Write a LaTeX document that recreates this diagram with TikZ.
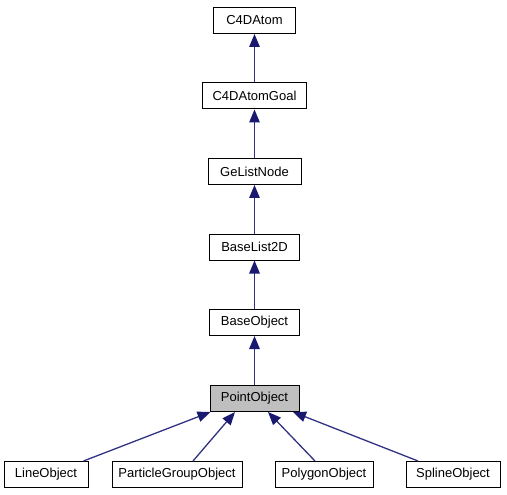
\documentclass[tikz,border=0pt]{standalone}
\usepackage{fontspec}
\setmainfont{Liberation Sans}
\usetikzlibrary{arrows.meta}
\definecolor{edgecol}{RGB}{25,25,112}
\definecolor{linecol}{RGB}{50,50,130}
\definecolor{hlgray}{RGB}{191,191,191}
\tikzset{
  cls/.style={draw=black, line width=1pt, fill=white, minimum height=26pt, inner sep=0pt,
    font=\fontsize{13}{15}\selectfont},
  cur/.style={cls, fill=hlgray},
  inh/.style={draw=linecol, line width=1.3pt, -{Triangle[length=13pt,width=10.5pt,color=edgecol,fill=edgecol]}}
}
\begin{document}
\begin{tikzpicture}[x=1pt,y=-1pt]
\useasboundingbox (0,0) rectangle (507,495);
\node[cls, minimum width=82pt] (a) at (254.5,20.5) {C4DAtom};
\node[cls, minimum width=104pt] (b) at (254.5,96) {C4DAtomGoal};
\node[cls, minimum width=93pt] (c) at (254.5,171.5) {GeListNode};
\node[cls, minimum width=90pt] (d) at (254.5,247) {BaseList2D};
\node[cls, minimum width=90pt] (e) at (254.5,322.5) {BaseObject};
\node[cur, minimum width=89pt] (p) at (254.5,398.5) {PointObject};
\node[cls, minimum width=84pt] (lo) at (46,474.5) {LineObject};
\node[cls, minimum width=130pt] (pg) at (177,474.5) {ParticleGroupObject};
\node[cls, minimum width=98pt] (pl) at (324,474.5) {PolygonObject};
\node[cls, minimum width=94pt] (sp) at (453,474.5) {SplineObject};
\draw[inh] (b) -- (a);
\draw[inh] (c) -- (b);
\draw[inh] (d) -- (c);
\draw[inh] (e) -- (d);
\draw[inh] (p) -- (e);
\draw[inh] ([xshift=-5pt]lo.north east) -- ([xshift=1pt]p.south west);
\draw[inh] ([xshift=16pt]pg.north) -- ([xshift=-19.5pt]p.south);
\draw[inh] ([xshift=-9pt]pl.north) -- ([xshift=13.5pt]p.south);
\draw[inh] ([xshift=-35pt]sp.north) -- ([xshift=38.5pt]p.south);
\end{tikzpicture}
\end{document}
